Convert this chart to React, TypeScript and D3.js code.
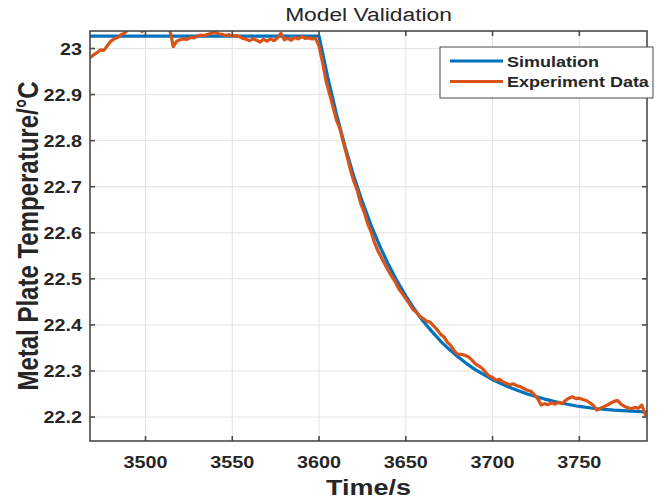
import React from "react";
import * as d3 from "d3";

// Axis ticks
const xTicks = [3500, 3550, 3600, 3650, 3700, 3750];
const yTicks = [22.2, 22.3, 22.4, 22.5, 22.6, 22.7, 22.8, 22.9, 23.0];
const yTickLabels = ["22.2", "22.3", "22.4", "22.5", "22.6", "22.7", "22.8", "22.9", "23"];

// Simulated plate temperature (°C) versus time (s)
const simTime = [
  3468, 3600, 3605, 3610, 3615, 3620, 3625, 3630, 3635, 3640, 3645, 3650, 3655, 3660, 3665,
  3670, 3675, 3680, 3685, 3690, 3695, 3700, 3710, 3720, 3730, 3740, 3750, 3760, 3770, 3780, 3789,
];
const simTemp = [
  23.027, 23.027, 22.938, 22.858, 22.787, 22.723, 22.667, 22.616, 22.571, 22.531, 22.495, 22.463,
  22.434, 22.408, 22.386, 22.365, 22.347, 22.331, 22.316, 22.303, 22.292, 22.281, 22.264, 22.250,
  22.239, 22.230, 22.223, 22.218, 22.215, 22.213, 22.211,
];

// Measured plate temperature (°C), sampled every 2 s
const expTime = [
  3468, 3470, 3472, 3474, 3476, 3478, 3480, 3482, 3484, 3486,
  3488, 3490, 3492, 3494, 3496, 3498, 3500, 3502, 3504, 3506,
  3508, 3510, 3512, 3514, 3516, 3518, 3520, 3522, 3524, 3526,
  3528, 3530, 3532, 3534, 3536, 3538, 3540, 3542, 3544, 3546,
  3548, 3550, 3552, 3554, 3556, 3558, 3560, 3562, 3564, 3566,
  3568, 3570, 3572, 3574, 3576, 3578, 3580, 3582, 3584, 3586,
  3588, 3590, 3592, 3594, 3596, 3598, 3600, 3602, 3604, 3606,
  3608, 3610, 3612, 3614, 3616, 3618, 3620, 3622, 3624, 3626,
  3628, 3630, 3632, 3634, 3636, 3638, 3640, 3642, 3644, 3646,
  3648, 3650, 3652, 3654, 3656, 3658, 3660, 3662, 3664, 3666,
  3668, 3670, 3672, 3674, 3676, 3678, 3680, 3682, 3684, 3686,
  3688, 3690, 3692, 3694, 3696, 3698, 3700, 3702, 3704, 3706,
  3708, 3710, 3712, 3714, 3716, 3718, 3720, 3722, 3724, 3726,
  3728, 3730, 3732, 3734, 3736, 3738, 3740, 3742, 3744, 3746,
  3748, 3750, 3752, 3754, 3756, 3758, 3760, 3762, 3764, 3766,
  3768, 3770, 3772, 3774, 3776, 3778, 3780, 3782, 3784, 3786,
  3788,
];
const expTemp = [
  22.980, 22.986, 22.991, 22.997, 22.996, 23.006, 23.016, 23.021, 23.024, 23.030,
  23.034, 23.041, 23.045, 23.048, 23.046, 23.037, 23.044, 23.048, 23.050, 23.049,
  23.047, 23.048, 23.046, 23.040, 23.004, 23.016, 23.019, 23.021, 23.020, 23.024,
  23.023, 23.027, 23.029, 23.028, 23.031, 23.033, 23.035, 23.032, 23.031, 23.028,
  23.030, 23.027, 23.028, 23.026, 23.022, 23.020, 23.017, 23.021, 23.018, 23.014,
  23.020, 23.016, 23.021, 23.017, 23.023, 23.033, 23.019, 23.022, 23.018, 23.024,
  23.021, 23.026, 23.022, 23.023, 23.021, 23.022, 23.005, 22.970, 22.930, 22.902,
  22.874, 22.845, 22.826, 22.796, 22.768, 22.738, 22.712, 22.692, 22.664, 22.645,
  22.620, 22.602, 22.578, 22.560, 22.546, 22.531, 22.517, 22.505, 22.493, 22.478,
  22.468, 22.457, 22.446, 22.434, 22.428, 22.419, 22.414, 22.408, 22.406, 22.398,
  22.390, 22.380, 22.374, 22.362, 22.355, 22.343, 22.336, 22.336, 22.334, 22.331,
  22.324, 22.316, 22.311, 22.306, 22.297, 22.289, 22.286, 22.280, 22.282, 22.276,
  22.273, 22.270, 22.272, 22.268, 22.266, 22.262, 22.258, 22.256, 22.249, 22.240,
  22.226, 22.229, 22.227, 22.231, 22.228, 22.232, 22.229, 22.236, 22.241, 22.244,
  22.240, 22.241, 22.238, 22.236, 22.231, 22.226, 22.215, 22.219, 22.222, 22.226,
  22.230, 22.234, 22.236, 22.228, 22.223, 22.220, 22.218, 22.221, 22.219, 22.226,
  22.205,
];

const seriesNames = ["Simulation", "Experiment Data"];
const seriesColors = ["#0072BD", "#D95319"];

const W = 671;
const H = 502;
const plot = { left: 90, right: 647, top: 31, bottom: 441 };
const FONT = "'Liberation Sans', Arial, Helvetica, sans-serif";
const SX = 1.2; // horizontal stretch applied to text glyphs
const AXIS = "#4a4a4a";

function SText(props: {
  x: number;
  y: number;
  size: number;
  weight?: string | number;
  anchor?: "start" | "middle" | "end";
  rotate?: number;
  fill?: string;
  children: React.ReactNode;
}) {
  const { x, y, size, weight = "bold", anchor = "start", rotate = 0, fill = "#262626" } = props;
  return (
    <text
      transform={`translate(${x},${y}) scale(${SX},1)${rotate ? ` rotate(${rotate})` : ""}`}
      fontFamily={FONT}
      fontSize={size}
      fontWeight={weight}
      textAnchor={anchor}
      fill={fill}
    >
      {props.children}
    </text>
  );
}

export default function App() {
  const x = d3.scaleLinear().domain([3468, 3789]).range([plot.left, plot.right]);
  const y = d3.scaleLinear().domain([22.148, 23.038]).range([plot.bottom, plot.top]);

  const simPts: [number, number][] = simTime.map((t, i) => [t, simTemp[i]]);
  const expPts: [number, number][] = expTime.map((t, i) => [t, expTemp[i]]);
  const line = d3
    .line<[number, number]>()
    .x((d) => x(d[0]))
    .y((d) => y(d[1]));

  const tickLen = 5;
  const pw = plot.right - plot.left;
  const ph = plot.bottom - plot.top;

  const leg = { x: 440, y: 47, w: 213, h: 51 };

  return (
    <svg
      width={W}
      height={H}
      viewBox={`0 0 ${W} ${H}`}
      style={{ position: "absolute", left: 0, top: 0, background: "#fff" }}
    >
      <defs>
        <clipPath id="plotClip">
          <rect x={plot.left} y={plot.top} width={pw} height={ph} />
        </clipPath>
      </defs>
      <rect x={0} y={0} width={W} height={H} fill="#fff" />

      {/* grid */}
      <g stroke="#e3e3e3" strokeWidth={1}>
        {xTicks.map((t) => (
          <line key={"gx" + t} x1={x(t)} x2={x(t)} y1={plot.top} y2={plot.bottom} />
        ))}
        {yTicks.map((t) => (
          <line key={"gy" + t} x1={plot.left} x2={plot.right} y1={y(t)} y2={y(t)} />
        ))}
      </g>

      {/* data */}
      <g clipPath="url(#plotClip)" fill="none" strokeLinejoin="round" strokeLinecap="round">
        <path d={line(simPts) || ""} stroke={seriesColors[0]} strokeWidth={3.2} />
        <path d={line(expPts) || ""} stroke={seriesColors[1]} strokeWidth={3.2} />
      </g>

      {/* axes box and ticks */}
      <g stroke={AXIS} strokeWidth={1.6} fill="none">
        <rect x={plot.left} y={plot.top} width={pw} height={ph} />
        {xTicks.map((t) => (
          <g key={"tx" + t}>
            <line x1={x(t)} x2={x(t)} y1={plot.bottom} y2={plot.bottom - tickLen} />
            <line x1={x(t)} x2={x(t)} y1={plot.top} y2={plot.top + tickLen} />
          </g>
        ))}
        {yTicks.map((t) => (
          <g key={"ty" + t}>
            <line x1={plot.left} x2={plot.left + tickLen} y1={y(t)} y2={y(t)} />
            <line x1={plot.right} x2={plot.right - tickLen} y1={y(t)} y2={y(t)} />
          </g>
        ))}
      </g>

      {/* tick labels */}
      {xTicks.map((t) => (
        <SText key={"lx" + t} x={x(t)} y={467.5} size={16.5} anchor="middle">
          {t}
        </SText>
      ))}
      {yTicks.map((t, i) => (
        <SText key={"ly" + t} x={82} y={y(t) + 6} size={16.5} anchor="end">
          {yTickLabels[i]}
        </SText>
      ))}

      {/* title and axis labels */}
      <SText x={(plot.left + plot.right) / 2} y={21} size={19} weight="normal" anchor="middle">
        Model Validation
      </SText>
      <SText x={(plot.left + plot.right) / 2} y={495} size={22.5} anchor="middle">
        Time/s
      </SText>
      <SText x={37.5} y={(plot.top + plot.bottom) / 2} size={24} anchor="middle" rotate={-90}>
        Metal Plate Temperature/°C
      </SText>

      {/* legend */}
      <g>
        <rect x={leg.x} y={leg.y} width={leg.w} height={leg.h} fill="#fff" stroke={AXIS} strokeWidth={1} />
        {seriesNames.map((name, i) => (
          <g key={name}>
            <line
              x1={450}
              x2={503}
              y1={61 + i * 20.5}
              y2={61 + i * 20.5}
              stroke={seriesColors[i]}
              strokeWidth={3}
            />
            <SText x={507} y={61 + i * 20.5 + 5.5} size={15} anchor="start">
              {name}
            </SText>
          </g>
        ))}
      </g>
    </svg>
  );
}
